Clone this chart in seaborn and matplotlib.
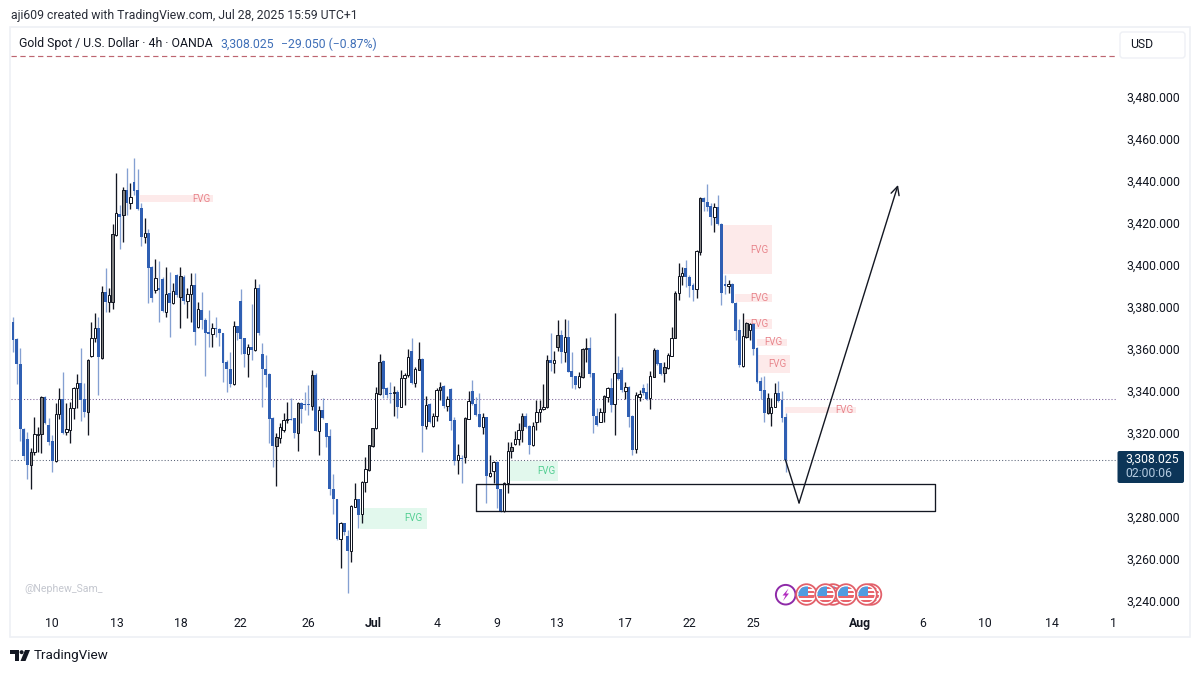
"""
Gold Spot / USD 4h candles with FVG zones, TradingView snapshot look.
Output: out.png
"""

import matplotlib
matplotlib.use("Agg")
import matplotlib.pyplot as plt
from matplotlib.patches import Circle, FancyBboxPatch, Polygon, Rectangle
import numpy as np
import pandas as pd
import seaborn as sns

opens = [3372.9, 3364.8, 3352.9, 3321.9, 3317.1, 3304.8, 3311, 3319, 3319.5, 3337.1,
         3323.8, 3316.2, 3306.7, 3329, 3336.2, 3320.5, 3321.4, 3331.9, 3341.4, 3343.8,
         3336.2, 3330, 3356.7, 3365.2, 3370, 3355.7, 3387.2, 3382.4, 3382.4, 3414.3,
         3424.3, 3423.8, 3435.7, 3429.5, 3439.5, 3435.7, 3427.1, 3413.3, 3415.2, 3399,
         3388.1, 3389, 3393.3, 3377.6, 3386.7, 3381.9, 3395.2, 3384.8, 3394.3, 3382.9,
         3386.2, 3390.5, 3370.5, 3378.6, 3373.8, 3368.1, 3367.1, 3370, 3369.5, 3367.6,
         3353.8, 3350.5, 3343.3, 3371, 3382.9, 3365.2, 3357.6, 3361, 3359.5, 3389,
         3357.6, 3350.5, 3348.1, 3327.1, 3313.8, 3317.6, 3321.4, 3326.2, 3326.7, 3327.1,
         3320, 3334.3, 3333.8, 3333.8, 3332.9, 3347.6, 3321, 3330.9, 3324.8, 3318.6,
         3293.3, 3288.6, 3269.5, 3277.1, 3271, 3263.8, 3284.8, 3288.6, 3281.4, 3296.7,
         3302.4, 3313.8, 3322.4, 3338.6, 3354.3, 3341.4, 3339, 3339, 3339.5, 3332.4,
         3346.2, 3347.6, 3359, 3343.8, 3350, 3355.2, 3323.3, 3333.8, 3323.3, 3328.1,
         3340.5, 3342.4, 3332.9, 3340.9, 3326.2, 3307.1, 3308.1, 3308.6, 3326.7, 3340,
         3333.8, 3329, 3322.9, 3327.6, 3299.5, 3301.9, 3306.2, 3293.3, 3282.9, 3296.2,
         3311.4, 3314.8, 3317.1, 3321.4, 3328.1, 3323.3, 3314.3, 3325.2, 3330, 3331.4,
         3332.4, 3354.8, 3353.3, 3360.9, 3366.7, 3358.6, 3365.7, 3349.5, 3347.1, 3341.9,
         3346.7, 3360, 3360.5, 3348.6, 3328.1, 3325.2, 3330, 3337.1, 3341.4, 3333.8,
         3348.6, 3350, 3340, 3341.9, 3328.1, 3312.4, 3337.1, 3341.4, 3339.5, 3336.7,
         3346.7, 3359.5, 3353.3, 3348.6, 3351, 3356.7, 3365.2, 3386.7, 3394.8, 3398.6,
         3394.3, 3390.5, 3388.6, 3406.2, 3431.9, 3430, 3428.1, 3422.9, 3427.6, 3419.5,
         3391, 3390, 3391, 3381.9, 3369, 3351.9, 3365.7, 3369, 3371.9, 3360.5,
         3344.8, 3340.5, 3329.5, 3329.5, 3332.4, 3339, 3335.7, 3327.6]

highs = [3375.2, 3365.2, 3360.5, 3322.4, 3320.5, 3312.9, 3327.6, 3322.9, 3337.6, 3337.6,
         3327.1, 3319, 3334.3, 3341.4, 3349, 3334.3, 3334.8, 3341.9, 3348.1, 3360.5,
         3343.8, 3355.2, 3372.9, 3377.1, 3375.2, 3390, 3398.6, 3389, 3419.5, 3443.8,
         3428.6, 3437.2, 3446.2, 3439, 3451, 3445.7, 3429.5, 3422.4, 3417.1, 3399.5,
         3402.9, 3401.9, 3394.3, 3399, 3396.7, 3391.4, 3395.7, 3399, 3395.2, 3389,
         3396.2, 3396.2, 3382.4, 3387.2, 3374.8, 3378.6, 3372.4, 3375.2, 3370, 3367.6,
         3354.8, 3358.6, 3373.3, 3371, 3388.6, 3365.2, 3362.4, 3381.4, 3393.3, 3391,
         3362.9, 3357.1, 3348.6, 3327.6, 3320, 3324.8, 3329.5, 3334.8, 3336.7, 3327.1,
         3334.8, 3334.8, 3339.5, 3342.9, 3350, 3348.6, 3332.9, 3336.7, 3324.8, 3321.9,
         3300.5, 3288.6, 3277.6, 3277.1, 3273.8, 3285.7, 3296.2, 3288.6, 3297.1, 3308.6,
         3314.3, 3322.4, 3342, 3357.6, 3354.8, 3341.9, 3344.3, 3342.4, 3340.5, 3350,
         3348.6, 3360, 3365.2, 3351.4, 3363.3, 3355.7, 3337.6, 3334.3, 3329.5, 3341.4,
         3344.3, 3342.9, 3337.6, 3341.4, 3327.6, 3314.8, 3309.5, 3327.6, 3340, 3345.2,
         3337.1, 3339, 3329.5, 3327.6, 3309.5, 3306.7, 3306.7, 3293.3, 3296.7, 3315.7,
         3315.7, 3321, 3324.8, 3329.5, 3329.5, 3323.8, 3325.2, 3335.7, 3335.7, 3343.3,
         3357.1, 3367.6, 3359, 3373.8, 3369, 3374.3, 3373.8, 3358.6, 3347.1, 3349,
         3360.5, 3365.2, 3365.7, 3348.6, 3331.9, 3331.9, 3338.1, 3341.9, 3346.2, 3377.1,
         3356.7, 3351.4, 3344.3, 3342.4, 3328.6, 3339.5, 3340.5, 3343.3, 3343.8, 3349.5,
         3360.5, 3360, 3353.3, 3353.8, 3358.1, 3370.5, 3387.6, 3401, 3399, 3402.4,
         3395.2, 3391.4, 3407.2, 3432.4, 3432.4, 3438.6, 3429.5, 3429.5, 3433.3, 3420,
         3395.2, 3392.9, 3391.4, 3382.4, 3374.3, 3377.1, 3372.9, 3372.4, 3372.4, 3361,
         3346.7, 3347.1, 3339, 3336.7, 3343.8, 3344.8, 3340, 3329.5]

lows = [3358.6, 3343.3, 3316.2, 3307.1, 3298.1, 3293.3, 3309.5, 3311, 3310.5, 3324.3,
        3314.3, 3301.4, 3306.2, 3326.7, 3319.5, 3319, 3315.2, 3326.7, 3331.9, 3325.7,
        3327.6, 3319, 3356.2, 3363.3, 3338.1, 3355.2, 3377.6, 3377.6, 3379, 3413.8,
        3407.6, 3411, 3423.8, 3426.7, 3433.3, 3426.2, 3409, 3410.5, 3381.9, 3382.4,
        3386.7, 3372.9, 3377.6, 3375.2, 3365.7, 3381.4, 3384.8, 3370, 3381.4, 3374.8,
        3372.9, 3362, 3370, 3369.5, 3347.1, 3361, 3361, 3365.7, 3361.4, 3344.3,
        3339.5, 3341.9, 3342.9, 3364.3, 3357.6, 3351.4, 3346.7, 3354.8, 3359, 3366.7,
        3332.4, 3341.9, 3315.2, 3303.8, 3294.8, 3315.2, 3320.5, 3324.8, 3326.2, 3317.6,
        3311.4, 3324.8, 3330.9, 3328.6, 3330.9, 3321, 3309.5, 3326.7, 3313.3, 3290.5,
        3281.4, 3269, 3255.7, 3271.4, 3243.8, 3258.6, 3284.8, 3274.8, 3277.1, 3291.9,
        3301.9, 3313.3, 3321.9, 3338.1, 3336.7, 3336.7, 3334.3, 3328.1, 3327.1, 3332.4,
        3333.3, 3346.7, 3343.3, 3341.9, 3350, 3311, 3321.9, 3324.8, 3322.9, 3325.7,
        3335.7, 3331.9, 3330.5, 3321.4, 3304.8, 3300.5, 3296.2, 3305.7, 3326.7, 3333.3,
        3328.1, 3322.9, 3319.5, 3286.7, 3299, 3296.2, 3284.3, 3282.4, 3282.4, 3291.4,
        3308.1, 3314.3, 3314.3, 3315.7, 3322.4, 3310, 3313.8, 3321.4, 3325.2, 3330.9,
        3331.9, 3349.5, 3348.6, 3359, 3353.3, 3353.8, 3349, 3341.4, 3341, 3341.4,
        3346.2, 3353.8, 3346.7, 3320, 3323.3, 3325.2, 3325.2, 3334.8, 3330, 3319,
        3345.2, 3339.5, 3336.2, 3322.9, 3309.5, 3310.5, 3335.2, 3338.1, 3335.7, 3331.4,
        3346.7, 3352.4, 3347.6, 3344.3, 3350.5, 3356.7, 3365.2, 3383.3, 3390.5, 3389.5,
        3384.8, 3382.9, 3384.3, 3404.8, 3425.7, 3425.7, 3419, 3415.7, 3419, 3381,
        3386.2, 3386.7, 3381.9, 3364.3, 3351.4, 3351.4, 3365.2, 3364.3, 3357.1, 3343.8,
        3336.2, 3325.2, 3329, 3323.3, 3332.4, 3334.8, 3325.2, 3301.4]

closes = [3364.3, 3352.9, 3321.9, 3309, 3304.8, 3311, 3319.5, 3319.5, 3337.1, 3324.8,
          3315.7, 3306.7, 3329, 3336.2, 3320, 3321.9, 3331.9, 3341.4, 3343.8, 3335.7,
          3330, 3354.8, 3365.2, 3370, 3356.2, 3387.2, 3382.4, 3385.7, 3414.8, 3424.8,
          3422.9, 3435.7, 3429.5, 3432.4, 3435.2, 3426.7, 3413.3, 3415.2, 3398.6, 3384.3,
          3393.8, 3388.1, 3378.1, 3386.2, 3381.9, 3387.6, 3385.7, 3394.8, 3382.9, 3386.2,
          3390.5, 3368.1, 3379, 3373.8, 3367.6, 3367.1, 3370, 3369.5, 3367.6, 3353.3,
          3350.5, 3343.3, 3371, 3367.6, 3364.8, 3357.6, 3361, 3359.5, 3389, 3367.6,
          3350.5, 3347.6, 3326.7, 3313.8, 3318.1, 3322.9, 3326.2, 3326.7, 3326.2, 3320,
          3334.3, 3331.4, 3333.3, 3333.3, 3347.6, 3321, 3330.9, 3327.1, 3318.1, 3293.3,
          3288.6, 3269.5, 3277.1, 3272.9, 3263.8, 3285.2, 3288.6, 3281, 3296.7, 3302.9,
          3314.3, 3322.4, 3339, 3353.8, 3341, 3338.1, 3338.6, 3339.5, 3332.4, 3346.2,
          3347.6, 3356.2, 3343.8, 3350.5, 3355.2, 3323.3, 3333.3, 3325.2, 3328.1, 3340.5,
          3341.9, 3332.9, 3336.2, 3325.7, 3306.7, 3309.5, 3307.6, 3327.1, 3335.2, 3333.8,
          3328.6, 3322.9, 3327.6, 3299.5, 3301, 3306.2, 3293.3, 3282.9, 3296.2, 3311.4,
          3313.3, 3317.1, 3321.4, 3328.1, 3322.9, 3314.3, 3323.3, 3330, 3331.4, 3332.4,
          3354.8, 3353.3, 3354.8, 3366.7, 3358.6, 3365.7, 3349, 3346.7, 3342.9, 3347.1,
          3360, 3360.5, 3348.1, 3328.1, 3323.8, 3330, 3337.6, 3341.4, 3333.3, 3348.6,
          3345.7, 3340.5, 3341.9, 3327.6, 3311.9, 3338.1, 3338.6, 3339, 3336.2, 3347.1,
          3359.5, 3352.9, 3348.1, 3351.4, 3357.1, 3365.2, 3386.7, 3394.8, 3396.2, 3394.3,
          3390, 3388.1, 3406.7, 3431.9, 3430, 3427.6, 3422.9, 3427.6, 3419.5, 3386.7,
          3390, 3391, 3381.9, 3368.6, 3352.4, 3366.2, 3372.4, 3371.9, 3360, 3344.3,
          3340, 3329.5, 3336.7, 3332.4, 3339, 3335.2, 3327.1, 3307.1]

# up candles that read as grey at this size
gray_bars = [5, 8, 21, 25, 28, 31, 47, 74, 77, 80, 84, 100, 101, 103, 107, 114, 120,
             127, 140, 143, 150, 153, 160, 166, 180, 183, 186, 193, 206, 212]

date_ticks = [11, 29.2, 47.2, 64, 82.9, 101.1, 119.1, 136, 152.8, 171.9, 189.9, 207.9,
              237.9, 255.6, 273, 291.9, 309]
date_labels = ["10", "13", "18", "22", "26", "Jul", "4", "9", "13", "17", "22", "25",
               "Aug", "6", "10", "14", "1"]
price_ticks = [3240, 3260, 3280, 3320, 3340, 3360, 3380, 3400, 3420, 3440, 3460, 3480]

# FVG zones: start bar, end bar, low, high, label bar
red_start = [35.7, 199.4, 202.8, 205.6, 209, 209, 216.9]
red_end = [56.2, 213.2, 213.2, 213.2, 217.4, 218.3, 236.8]
red_low = [3430, 3395.7, 3382.4, 3369.5, 3361.4, 3348.6, 3329.5]
red_high = [3433.3, 3419, 3386.2, 3374.3, 3364.8, 3357.1, 3332.4]
red_label = [52.8, 209.6, 209.6, 209.6, 213.5, 214.6, 233.4]
green_start = [97.5, 139.6]
green_end = [116.3, 153.1]
green_low = [3274.3, 3297.1]
green_high = [3284.3, 3306.7]
green_label = [112.6, 149.7]

box_bars = [130.1, 259]
box_prices = [3282.9, 3295.7]
arrow_bars = [217, 220.8, 248.6]
arrow_prices = [3307.1, 3286.7, 3438.1]
level_line = 3336.2
top_dash = 3499.5

BLUE = "#2f5fb3"
BLUE_WICK = "#84a0d2"
INK = "#131722"
W, H = 1200, 673
# axes box in picture pixels
LEFT, RIGHT, TOP, BOTTOM = 11, 1116, 30, 611
BAR_PX = 3.56
BAR0_PX = 13
PX_PER_USD = 2.1
Y3480_PX = 97
FS = 8.8

sns.set_theme(style="white")
plt.rcParams["font.family"] = ["Roboto", "DejaVu Sans"]

df = pd.DataFrame({"open": opens, "high": highs, "low": lows, "close": closes})
df["bar"] = np.arange(len(df))
df["side"] = np.where(df["close"] >= df["open"], "up", "down")

fig = plt.figure(figsize=(W / 100, H / 100), dpi=100, facecolor="white")
ax = fig.add_axes([LEFT / W, 1 - BOTTOM / H, (RIGHT - LEFT) / W, (BOTTOM - TOP) / H])
ax.set_facecolor("none")

# zones first, candles over them
for x0, x1, lo, hi, lx in zip(red_start, red_end, red_low, red_high, red_label):
    ax.add_patch(Rectangle((x0, lo), x1 - x0, hi - lo, fc="#fdeaea", ec="none", zorder=0.5))
    ax.text(lx, (lo + hi) / 2, "FVG", color="#e8868d", fontsize=7, ha="center", va="center", zorder=0.6)
for x0, x1, lo, hi, lx in zip(green_start, green_end, green_low, green_high, green_label):
    ax.add_patch(Rectangle((x0, lo), x1 - x0, hi - lo, fc="#e2f8ed", ec="none", zorder=0.5))
    ax.text(lx, (lo + hi) / 2, "FVG", color="#54cf93", fontsize=7, ha="center", va="center", zorder=0.6)

ax.axhline(level_line, color="#7a6199", lw=0.75, ls=(0, (1, 2)), zorder=0.8)
ax.axhline(closes[-1], color="#5a6478", lw=0.75, ls=(0, (1, 2)), zorder=0.8)
ax.axhline(top_dash, color="#bd6570", lw=0.85, ls=(0, (4.5, 3)), zorder=0.8)

wicks = df.melt(id_vars=["bar", "side"], value_vars=["high", "low"], value_name="price")
sns.lineplot(data=wicks, x="bar", y="price", units="bar", estimator=None, hue="side",
             palette={"up": INK, "down": BLUE_WICK}, lw=0.95, legend=False, sort=False,
             solid_capstyle="butt", zorder=1, ax=ax)

up = df[df["side"] == "up"]
down = df[df["side"] == "down"]
fills = ["#808080" if b in gray_bars else "white" for b in up["bar"]]
ax.bar(down["bar"], down["close"] - down["open"], bottom=down["open"], width=0.82,
       color=BLUE, linewidth=0, zorder=2)
ax.bar(up["bar"], up["close"] - up["open"], bottom=up["open"], width=0.68,
       color=fills, edgecolor=INK, linewidth=0.72, zorder=2)

ax.plot(box_bars[:1] * 2 + box_bars[1:] * 2 + box_bars[:1],
        [box_prices[0], box_prices[1], box_prices[1], box_prices[0], box_prices[0]],
        color=INK, lw=0.95, zorder=3)
ax.plot(arrow_bars[:2], arrow_prices[:2], color=INK, lw=1.0, zorder=3)
ax.annotate("", xy=(arrow_bars[2], arrow_prices[2]), xytext=(arrow_bars[1], arrow_prices[1]),
            arrowprops=dict(arrowstyle="->", color=INK, lw=1.0, mutation_scale=15,
                            shrinkA=0, shrinkB=0), zorder=3)

ax.set_xlim((LEFT - BAR0_PX) / BAR_PX, (RIGHT - BAR0_PX) / BAR_PX)
ax.set_ylim(3480 - (BOTTOM - Y3480_PX) / PX_PER_USD, 3480 + (Y3480_PX - TOP) / PX_PER_USD)
ax.set_xticks(date_ticks, date_labels)
ax.set_yticks(price_ticks, [f"{p:,.3f}" for p in price_ticks])
ax.yaxis.tick_right()
ax.tick_params(axis="both", length=0, labelsize=FS, colors=INK)
ax.tick_params(axis="y", pad=7.5)
ax.tick_params(axis="x", pad=4)
for lab in ax.get_xticklabels():
    if lab.get_text() in ("Jul", "Aug"):
        lab.set_fontweight("bold")
ax.set_xlabel("")
ax.set_ylabel("")
sns.despine(ax=ax, left=True, right=True, top=True, bottom=True)

# page furniture, laid out in picture pixels
px = fig.add_axes([0, 0, 1, 1], zorder=5)
px.set_xlim(0, W)
px.set_ylim(H, 0)
px.axis("off")
px.patch.set_alpha(0)

px.add_patch(Rectangle((10, 27), 1179.5, 610, fc="none", ec="#eef0f5", lw=1.2))
px.text(11, 15.5, "aji609 created with TradingView.com, Jul 28, 2025 15:59 UTC+1",
        fontsize=FS, color="#2a2e39", va="center")
px.text(19, 44, "Gold Spot / U.S. Dollar · 4h · OANDA", fontsize=FS, color=INK, va="center")
px.text(220, 44, "3,308.025", fontsize=FS, color="#3f6fb8", va="center")
px.text(281, 44, "−29.050 (−0.87%)", fontsize=FS, color="#3f6fb8", va="center")
px.add_patch(FancyBboxPatch((1120, 32), 65, 26, boxstyle="round,pad=0,rounding_size=3",
                            fc="white", ec="#eef0f5", lw=1))
px.text(1130, 45, "USD", fontsize=FS, color=INK, va="center")

px.add_patch(FancyBboxPatch((1117.5, 451), 66.5, 32, boxstyle="round,pad=0,rounding_size=2",
                            fc="#0c3558", ec="none"))
px.text(1125.5, 459, "3,308.025", fontsize=FS, color="white", va="center")
px.text(1125.5, 473.5, "02:00:06", fontsize=FS, color="#b5cbe0", va="center")

px.text(24, 589.5, "@Nephew_Sam_", fontsize=7.6, color="#c4c7cf", va="center")

# logo
px.add_patch(Polygon([(10, 650), (19, 650), (19, 661), (14.5, 661), (14.5, 654), (10, 654)],
                     fc=INK, ec="none"))
px.add_patch(Circle((21.6, 652.2), 2.0, fc=INK, ec="none"))
px.add_patch(Polygon([(25, 650), (30, 650), (25.5, 661), (20.5, 661)], fc=INK, ec="none"))
px.text(34, 655.5, "TradingView", fontsize=9.7, color=INK, va="center")


def flag(cx, cy=594.5, r=10.3):
    px.add_patch(Circle((cx, cy), r, fc="white", ec="#e2606a", lw=1.3, zorder=6))
    clip = Circle((cx, cy), r - 2.2, transform=px.transData)
    for k in range(4):
        bar = Rectangle((cx - r, cy - 7.5 + k * 4.2), 2 * r, 2.1, fc="#e8646c", ec="none", zorder=6)
        px.add_patch(bar)
        bar.set_clip_path(clip)
    canton = Rectangle((cx - r, cy - r), r + 1.5, r + 1, fc="#4f9be0", ec="none", zorder=6)
    px.add_patch(canton)
    canton.set_clip_path(clip)


px.add_patch(Circle((785.7, 594.7), 9.8, fc="white", ec="#8e2aa8", lw=1.4, zorder=6))
px.add_patch(Polygon([(788.5, 588.5), (782.5, 595.5), (785.5, 595.5), (783, 601),
                      (789, 593.5), (786, 593.5)], fc="#b22cc0", ec="none", zorder=6))
for cx in (871, 833, 806.5, 846, 825.5, 866.5):
    flag(cx)

fig.savefig("out.png", dpi=100)
